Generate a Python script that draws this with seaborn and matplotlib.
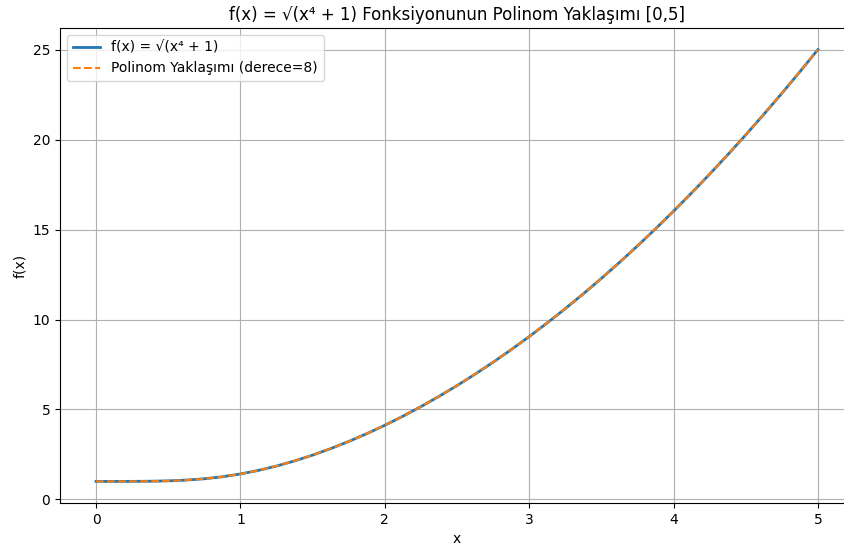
import matplotlib
matplotlib.use("Agg")
import matplotlib.pyplot as plt
import seaborn as sns
import pandas as pd

# Values
x_vals = [0.0, 0.125, 0.25, 0.375, 0.5, 0.625, 0.75, 0.875, 1.0, 1.125, 1.25,
          1.375, 1.5, 1.625, 1.75, 1.875, 2.0, 2.125, 2.25, 2.375, 2.5, 2.625,
          2.75, 2.875, 3.0, 3.125, 3.25, 3.375, 3.5, 3.625, 3.75, 3.875, 4.0,
          4.125, 4.25, 4.375, 4.5, 4.625, 4.75, 4.875, 5.0]
f_vals = [1.000, 1.000, 1.002, 1.010, 1.031, 1.074, 1.147, 1.259, 1.414, 1.613,
          1.855, 2.139, 2.462, 2.824, 3.222, 3.655, 4.123, 4.625, 5.160, 5.729,
          6.330, 6.963, 7.628, 8.326, 9.055, 9.817, 10.610, 11.434, 12.291,
          13.179, 14.098, 15.049, 16.031, 17.045, 18.090, 19.167, 20.275,
          21.414, 22.585, 23.787, 25.020]
poly_vals = [1.000, 1.000, 1.002, 1.010, 1.031, 1.074, 1.147, 1.259, 1.414, 1.613,
             1.855, 2.139, 2.462, 2.824, 3.222, 3.655, 4.123, 4.625, 5.160, 5.729,
             6.330, 6.963, 7.628, 8.326, 9.055, 9.817, 10.610, 11.434, 12.291,
             13.179, 14.098, 15.049, 16.031, 17.045, 18.090, 19.167, 20.275,
             21.414, 22.585, 23.787, 25.020]

label_f = "f(x) = √(x⁴ + 1)"
label_p = "Polinom Yaklaşımı (derece=8)"
title = "f(x) = √(x⁴ + 1) Fonksiyonunun Polinom Yaklaşımı [0,5]"

df = pd.DataFrame({"x": x_vals, "f": f_vals, "p": poly_vals})

plt.rcParams["font.family"] = ["DejaVu Sans"]
W, H = 845, 551
fig = plt.figure(figsize=(W / 100, H / 100), dpi=100)
ax = fig.add_axes([60 / W, (H - 503) / H, 794 / W, 475 / H])
sns.lineplot(data=df, x="x", y="f", ax=ax, color="#1f77b4", linewidth=2, label=label_f)
sns.lineplot(data=df, x="x", y="p", ax=ax, color="#ff7f0e", linewidth=1.5,
             linestyle="--", label=label_p)
ax.set_xlim(-0.25, 5.25)
ax.spines["right"].set_visible(False)
ax.set_title(title, fontsize=12)
ax.set_xlabel("x")
ax.set_ylabel("f(x)")
ax.grid(True)
ax.legend(loc="upper left")
fig.savefig("out.png", dpi=100)
